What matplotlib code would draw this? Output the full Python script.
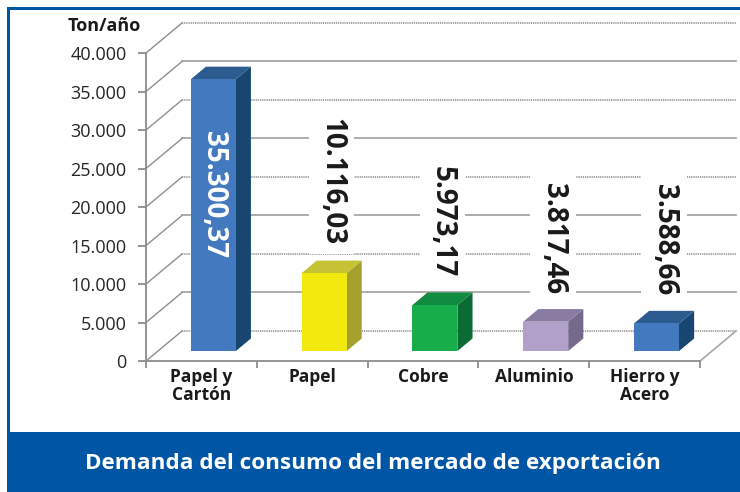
import matplotlib.pyplot as plt
from matplotlib.patches import Polygon, Rectangle

plt.rcParams['font.family'] = ['Open Sans', 'DejaVu Sans']

categories = ['Papel y\nCartón', 'Papel', 'Cobre', 'Aluminio', 'Hierro y\nAcero']
values = [35300.37, 10116.03, 5973.17, 3817.46, 3588.66]
y_ticks = [0, 5000, 10000, 15000, 20000, 25000, 30000, 35000, 40000]

# front / side / top shades for each column
front_colors = ['#4279bf', '#f2ea0e', '#17ad4a', '#b1a0c9', '#4279bf']
side_colors = ['#174670', '#a3a02e', '#0b6b35', '#766a8c', '#174670']
top_colors = ['#2c5b8f', '#c6c235', '#0f8a3f', '#8a7ba0', '#2c5b8f']

BLUE = '#0055a5'
GRID = '#a6a6a6'

# oblique projection of the depth axis (category units, value units)
DX, DY = 0.325, 3900
F0, F1 = 0.33, 0.75        # depth slab occupied by the columns
BAR_W = 0.406


def fmt_es(v, dec=0):
    s = f"{v:,.{dec}f}"
    return s.replace(',', '#').replace('.', ',').replace('#', '.')


fig = plt.figure(figsize=(7.4, 4.92), dpi=100)
fig.patch.set_facecolor('white')

# blue frame + bottom banner
fig.patches.append(Rectangle((7 / 740, 0), 733 / 740, 60 / 492,
                             transform=fig.transFigure, fc=BLUE, ec='none'))
fig.patches.append(Rectangle((7 / 740, 482 / 492), 733 / 740, 3 / 492,
                             transform=fig.transFigure, fc=BLUE, ec='none'))
fig.patches.append(Rectangle((7 / 740, 60 / 492), 3 / 740, 425 / 492,
                             transform=fig.transFigure, fc=BLUE, ec='none'))
fig.text(373 / 740, 29 / 492, 'Demanda del consumo del mercado de exportación',
         color='white', fontsize=16.2, fontweight='bold', ha='center',
         va='center')
fig.text(141 / 740, 466 / 492, 'Ton/año', fontsize=13, fontweight='bold',
         ha='right', va='center', color='#1a1a1a')

ax = fig.add_axes([146 / 740, 131 / 492, 590.6 / 740, 338.8 / 492])
ax.set_xlim(0, 5.33)
ax.set_ylim(0, 44000)
ax.patch.set_alpha(0)

n = len(categories)

# back wall gridlines and side wall diagonals
for i, v in enumerate(y_ticks):
    if i % 2 == 0:
        ls, col = (0, (0.7, 0.5)), '#9a9a9a'
    else:
        ls, col = '-', GRID
    ax.plot([DX, n + DX], [v + DY, v + DY], color=col, lw=1.3, ls=ls,
            zorder=1, clip_on=False)
    ax.plot([0, DX], [v, v + DY], color='#8f8f8f', lw=1.0, zorder=1,
            clip_on=False)
ax.plot([n, n + DX], [0, DY], color=GRID, lw=1.2, zorder=1, clip_on=False)

# 3-D columns
for i, v in enumerate(values):
    c = i + 0.5
    x0, x1 = c - BAR_W / 2, c + BAR_W / 2
    fx0, fx1 = x0 + F0 * DX, x1 + F0 * DX
    bx0, bx1 = x0 + F1 * DX, x1 + F1 * DX
    fy, by = F0 * DY, F1 * DY
    side = Polygon([(fx1, fy), (bx1, by), (bx1, by + v), (fx1, fy + v)],
                   closed=True, fc=side_colors[i], ec='none', zorder=3)
    top = Polygon([(fx0, fy + v), (fx1, fy + v), (bx1, by + v), (bx0, by + v)],
                  closed=True, fc=top_colors[i], ec='none', zorder=3)
    front = Rectangle((fx0, fy), BAR_W, v, fc=front_colors[i], ec='none',
                      zorder=4)
    for p in (side, top, front):
        p.set_clip_on(False)
        ax.add_patch(p)

    label = fmt_es(v, 2)
    if i == 0:
        ax.annotate(label, xy=(c + F0 * DX, fy + v), xytext=(0, -37),
                    textcoords='offset points', rotation=270, ha='center',
                    va='top', fontsize=20, fontweight='bold', color='white',
                    zorder=6)
    else:
        xm = c + (F0 + F1) / 2 * DX
        ax.annotate(label, xy=(xm, fy + v), xytext=(0, 20),
                    textcoords='offset points', rotation=270, ha='center',
                    va='bottom', fontsize=20, fontweight='bold',
                    color='#1a1a1a', zorder=6,
                    bbox=dict(boxstyle='square,pad=0.3', fc='white',
                              ec='none'))

# front axes
for side in ('top', 'right'):
    ax.spines[side].set_visible(False)
ax.spines['left'].set_bounds(0, 40000)
ax.spines['bottom'].set_bounds(0, n)
for side in ('left', 'bottom'):
    ax.spines[side].set_color('#8c8c8c')
    ax.spines[side].set_linewidth(1.3)
    ax.spines[side].set_zorder(2)

ax.set_yticks(y_ticks)
ax.set_yticklabels([fmt_es(v) for v in y_ticks])
ax.set_xticks(range(n + 1))
ax.set_xticklabels([])
ax.set_xticks([i + 0.5 for i in range(n)], minor=True)
ax.set_xticklabels(categories, minor=True, fontweight='bold', fontsize=12.5,
                   linespacing=1.0)
ax.tick_params(axis='y', length=6, width=1.3, color='#8c8c8c', labelsize=13,
               labelcolor='#262626', pad=8)
ax.tick_params(axis='x', which='major', length=5, width=1.3, color='#8c8c8c')
ax.tick_params(axis='x', which='minor', length=0, labelcolor='#1a1a1a', pad=5)

fig.savefig('out.png', dpi=100)
